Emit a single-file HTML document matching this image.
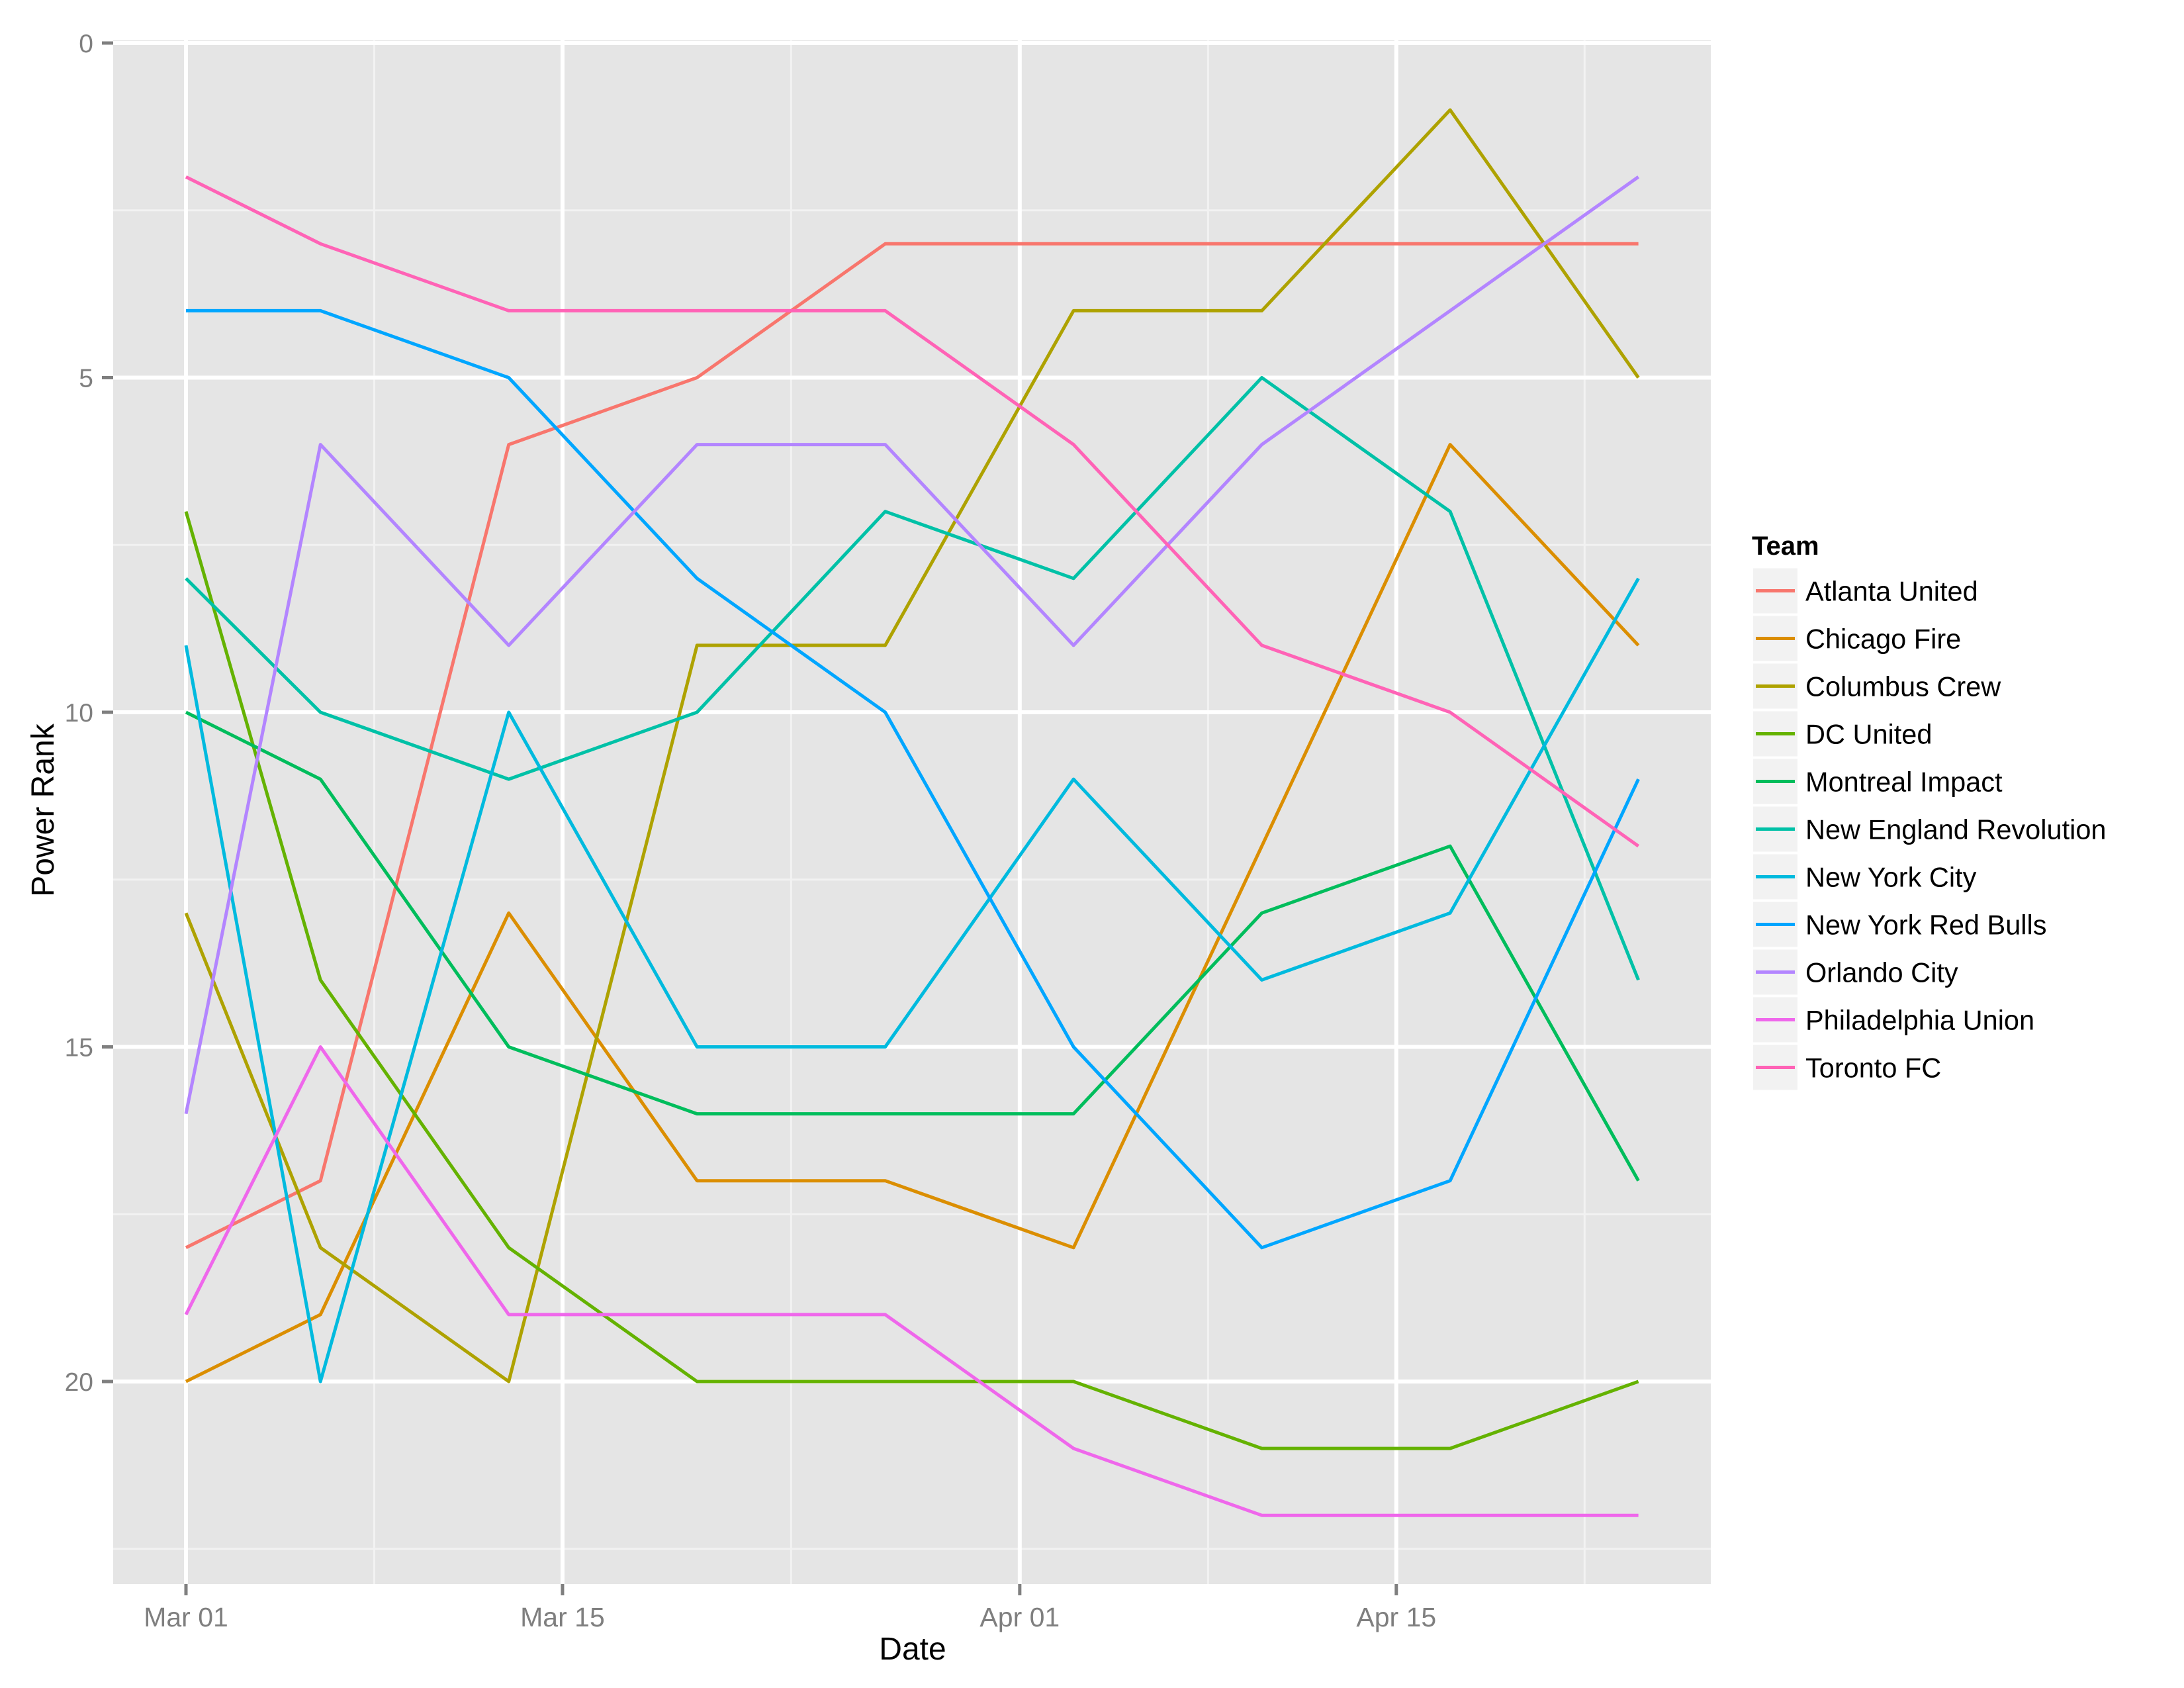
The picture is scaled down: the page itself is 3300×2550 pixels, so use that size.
<!DOCTYPE html>
<html><head><meta charset="utf-8"><style>
html,body{margin:0;padding:0;background:#fff;}
svg{display:block;font-family:"Liberation Sans",Arial,sans-serif;}
</style></head><body>
<svg width="3300" height="2550" viewBox="0 0 3300 2550" xmlns="http://www.w3.org/2000/svg">
<rect x="0" y="0" width="3300" height="2550" fill="#fff"/>
<rect x="171" y="61" width="2414" height="2332" fill="#e5e5e5"/>
<g id="grid"></g>
<g id="lines"></g>
<g id="axes"></g>
<text x="1379" y="2507" font-size="48" text-anchor="middle" fill="#000">Date</text>
<text transform="translate(81,1224) rotate(-90)" font-size="48" text-anchor="middle" fill="#000">Power Rank</text>
<g id="legend"></g>
<script>
(function(){
var NS="http://www.w3.org/2000/svg";
function el(p,t,a,txt){var e=document.createElementNS(NS,t);for(var k in a)e.setAttribute(k,a[k]);if(txt!==undefined)e.textContent=txt;document.getElementById(p).appendChild(e);return e;}
var X0=281,DX=40.64,Y0=65,DY=101.1;
function X(d){return X0+d*DX;} function Y(v){return Y0+v*DY;}
var L=171,R=2585,T=61,B=2393;
[2.5,7.5,12.5,17.5,22.5].forEach(function(v){el("grid","line",{x1:L,x2:R,y1:Y(v),y2:Y(v),stroke:"#f2f2f2","stroke-width":3});});
[7,22.5,38,52].forEach(function(d){el("grid","line",{x1:X(d),x2:X(d),y1:T,y2:B,stroke:"#f2f2f2","stroke-width":3});});
[0,5,10,15,20].forEach(function(v){el("grid","line",{x1:L,x2:R,y1:Y(v),y2:Y(v),stroke:"#fff","stroke-width":6});
 el("axes","line",{x1:154,x2:171,y1:Y(v),y2:Y(v),stroke:"#7f7f7f","stroke-width":5});
 el("axes","text",{x:141,y:Y(v)+14,"font-size":39,"text-anchor":"end",fill:"#7f7f7f"},String(v));});
[[0,"Mar 01"],[14,"Mar 15"],[31,"Apr 01"],[45,"Apr 15"]].forEach(function(a){var x=X(a[0]);
 el("grid","line",{x1:x,x2:x,y1:T,y2:B,stroke:"#fff","stroke-width":6});
 el("axes","line",{x1:x,x2:x,y1:B,y2:B+17,stroke:"#7f7f7f","stroke-width":5});
 el("axes","text",{x:x,y:2457,"font-size":41,"text-anchor":"middle",fill:"#7f7f7f"},a[1]);});
var days=[0,5,12,19,26,33,40,47,54];
var S=[
["Atlanta United","#F8766D",[18,17,6,5,3,3,3,3,3]],
["Chicago Fire","#DB8E00",[20,19,13,17,17,18,12,6,9]],
["Columbus Crew","#AEA200",[13,18,20,9,9,4,4,1,5]],
["DC United","#64B200",[7,14,18,20,20,20,21,21,20]],
["Montreal Impact","#00BD5C",[10,11,15,16,16,16,13,12,17]],
["New England Revolution","#00C1A7",[8,10,11,10,7,8,5,7,14]],
["New York City","#00BADE",[9,20,10,15,15,11,14,13,8]],
["New York Red Bulls","#00A6FF",[4,4,5,8,10,15,18,17,11]],
["Orlando City","#B385FF",[16,6,9,6,6,9,6,4,2]],
["Philadelphia Union","#EF67EB",[19,15,19,19,19,21,22,22,22]],
["Toronto FC","#FF63B6",[2,3,4,4,4,6,9,10,12]]];
el("legend","text",{x:2647,y:838,"font-size":40,"font-weight":"bold",fill:"#000"},"Team");
S.forEach(function(s,i){
 var pts=s[2].map(function(v,j){return X(days[j]).toFixed(1)+","+Y(v).toFixed(1);}).join(" ");
 el("lines","polyline",{points:pts,fill:"none",stroke:s[1],"stroke-width":5,"stroke-linejoin":"round"});
 var cy=892.5+i*72;
 el("legend","rect",{x:2649,y:cy-34,width:67,height:68,fill:"#f2f2f2"});
 el("legend","line",{x1:2653,x2:2712,y1:cy,y2:cy,stroke:s[1],"stroke-width":5});
 el("legend","text",{x:2728,y:cy+15,"font-size":41.5,fill:"#000"},s[0]);
});
})();
</script>
</svg>
</body></html>
